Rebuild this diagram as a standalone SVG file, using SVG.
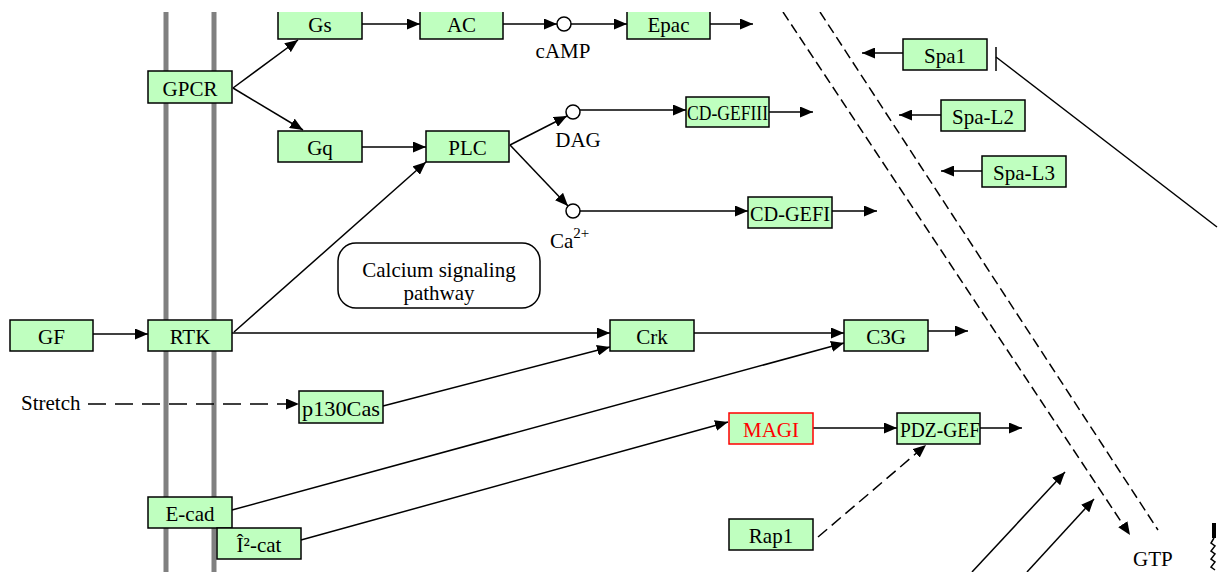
<svg xmlns="http://www.w3.org/2000/svg" width="1222" height="572" viewBox="0 0 1222 572" font-family="'Liberation Serif','Times New Roman',serif">
<defs>
<style>
.n rect{fill:#bfffbf;stroke:#000;stroke-width:1.5}
.n text,.t{font-family:"Liberation Serif","Times New Roman",serif;font-size:21px;fill:#000}
.n text{text-anchor:middle}
.c line,.c path{stroke:#000;stroke-width:1.5;fill:none}
.a{marker-end:url(#arr)}
.d1{stroke-dasharray:10 5}
.d2{stroke-dasharray:18 9}
.d3{stroke-dasharray:12 6}
.mem{stroke:#808080;stroke-width:5}
.cp circle{fill:#fff;stroke:#000;stroke-width:1.5}
</style>
<marker id="arr" markerUnits="userSpaceOnUse" markerWidth="13" markerHeight="11" refX="13" refY="5.5" orient="auto">
<path d="M0,0 L13,5.5 L0,11 z" fill="#000"/>
</marker>
<clipPath id="clip"><rect x="0" y="12" width="1222" height="560"/></clipPath>
</defs>
<rect width="1222" height="572" fill="#fff"/>
<g clip-path="url(#clip)">
<g id="membrane">
<line class="mem" x1="166" y1="12" x2="166" y2="572"/>
<line class="mem" x1="214" y1="12" x2="214" y2="572"/>
</g>
<g id="connectors" class="c">
<line class="a" x1="233" y1="88" x2="298" y2="40"/>
<line class="a" x1="233" y1="88" x2="303" y2="130"/>
<line class="a" x1="362" y1="24" x2="420" y2="24"/>
<line class="a" x1="503" y1="24" x2="557" y2="24"/>
<line class="a" x1="571" y1="24" x2="627" y2="24"/>
<line class="a" x1="710" y1="24" x2="753" y2="24"/>
<line class="a" x1="362" y1="147" x2="426" y2="147"/>
<line class="a" x1="510" y1="145" x2="567" y2="116"/>
<line class="a" x1="510" y1="145" x2="568" y2="206"/>
<line class="a" x1="580" y1="110" x2="686" y2="110"/>
<line class="a" x1="769" y1="112" x2="813" y2="112"/>
<line class="a" x1="580" y1="211" x2="748" y2="211"/>
<line class="a" x1="832" y1="211" x2="877" y2="211"/>
<line class="a" x1="903" y1="53" x2="862" y2="53"/>
<line class="a" x1="941" y1="115" x2="899" y2="115"/>
<line class="a" x1="982" y1="171" x2="941" y2="171"/>
<line x1="996" y1="57" x2="1217" y2="227"/>
<line x1="996" y1="47" x2="996" y2="71"/>
<line class="d1 a" x1="783" y1="12" x2="1130" y2="535"/>
<line class="d1" x1="820" y1="12" x2="1158" y2="530"/>
<line class="a" x1="93" y1="334" x2="148" y2="334"/>
<line class="a" x1="234" y1="332" x2="426" y2="162"/>
<line class="a" x1="232" y1="333" x2="610" y2="333"/>
<line class="a" x1="694" y1="333" x2="844" y2="333"/>
<line class="a" x1="928" y1="331" x2="968" y2="331"/>
<line class="d2 a" x1="88" y1="404" x2="299" y2="404"/>
<line class="a" x1="383" y1="406" x2="610" y2="347"/>
<line class="a" x1="232" y1="510" x2="844" y2="343"/>
<line class="a" x1="301" y1="540" x2="728" y2="422"/>
<line class="a" x1="813" y1="428" x2="897" y2="428"/>
<line class="a" x1="980" y1="428" x2="1022" y2="428"/>
<line class="d3 a" x1="818" y1="537" x2="926" y2="445"/>
<line class="a" x1="972" y1="572" x2="1065" y2="472"/>
<line class="a" x1="1027" y1="572" x2="1094" y2="499"/>
<path d="M1214,523 L1214,538" style="stroke-width:4"/>
<path d="M1214,538 l-3,5 l4,3 l-4,5 l4,3 l-4,5 l4,3 l-4,5 l4,3"/>
</g>
<g id="compounds" class="cp">
<circle cx="564" cy="24" r="7"/>
<circle cx="573" cy="112" r="7"/>
<circle cx="573" cy="211" r="7"/>
<text class="t" x="563" y="58" text-anchor="middle">cAMP</text>
<text class="t" x="578" y="147" text-anchor="middle">DAG</text>
<text class="t" x="550" y="248">Ca<tspan font-size="15" dy="-10">2+</tspan></text>
</g>
<g id="calcium">
<rect x="338" y="243" width="202" height="65" rx="18" fill="#fff" stroke="#000" stroke-width="1.5"/>
<text class="t" x="439" y="277" text-anchor="middle">Calcium signaling</text>
<text class="t" x="439" y="300" text-anchor="middle">pathway</text>
</g>
<text class="t" x="21" y="410">Stretch</text>
<text class="t" x="1133" y="566">GTP</text>
<g id="Gs" class="n"><rect x="278" y="8" width="84" height="31"/><text x="320" y="32">Gs</text></g>
<g id="AC" class="n"><rect x="420" y="8" width="83" height="31"/><text x="461.5" y="32">AC</text></g>
<g id="Epac" class="n"><rect x="627" y="8" width="83" height="31"/><text x="668.5" y="32">Epac</text></g>
<g id="GPCR" class="n"><rect x="148" y="71" width="84" height="32"/><text x="190" y="96">GPCR</text></g>
<g id="Gq" class="n"><rect x="278" y="131" width="84" height="31"/><text x="320" y="155">Gq</text></g>
<g id="PLC" class="n"><rect x="426" y="131" width="83" height="31"/><text x="467.5" y="155">PLC</text></g>
<g id="CD-GEFIII" class="n"><rect x="686" y="97" width="83" height="30"/><text x="727.5" y="120" textLength="81" lengthAdjust="spacingAndGlyphs">CD-GEFIII</text></g>
<g id="CD-GEFI" class="n"><rect x="748" y="197" width="84" height="31"/><text x="790" y="221" textLength="80" lengthAdjust="spacingAndGlyphs">CD-GEFI</text></g>
<g id="Spa1" class="n"><rect x="903" y="39" width="84" height="31"/><text x="945" y="63">Spa1</text></g>
<g id="Spa-L2" class="n"><rect x="941" y="100" width="84" height="31"/><text x="983" y="124">Spa-L2</text></g>
<g id="Spa-L3" class="n"><rect x="982" y="156" width="84" height="31"/><text x="1024" y="180">Spa-L3</text></g>
<g id="GF" class="n"><rect x="10" y="320" width="83" height="31"/><text x="51.5" y="344">GF</text></g>
<g id="RTK" class="n"><rect x="148" y="320" width="84" height="31"/><text x="190" y="344">RTK</text></g>
<g id="Crk" class="n"><rect x="610" y="320" width="84" height="31"/><text x="652" y="344">Crk</text></g>
<g id="C3G" class="n"><rect x="844" y="320" width="84" height="31"/><text x="886" y="344">C3G</text></g>
<g id="p130Cas" class="n"><rect x="299" y="391" width="84" height="32"/><text x="341" y="416" textLength="78" lengthAdjust="spacingAndGlyphs">p130Cas</text></g>
<g id="E-cad" class="n"><rect x="148" y="497" width="84" height="31"/><text x="190" y="521">E-cad</text></g>
<g id="b-cat" class="n"><rect x="217" y="528" width="84" height="31"/><text x="259" y="552">Î²-cat</text></g>
<g id="MAGI" class="n"><rect x="729" y="413" width="84" height="31" style="stroke:#ff0000"/><text x="771" y="437" style="fill:#ff0000">MAGI</text></g>
<g id="PDZ-GEF" class="n"><rect x="897" y="413" width="83" height="31"/><text x="940" y="437" textLength="80" lengthAdjust="spacingAndGlyphs">PDZ-GEF</text></g>
<g id="Rap1" class="n"><rect x="729" y="519" width="84" height="31"/><text x="771" y="543">Rap1</text></g>
</g>
</svg>
